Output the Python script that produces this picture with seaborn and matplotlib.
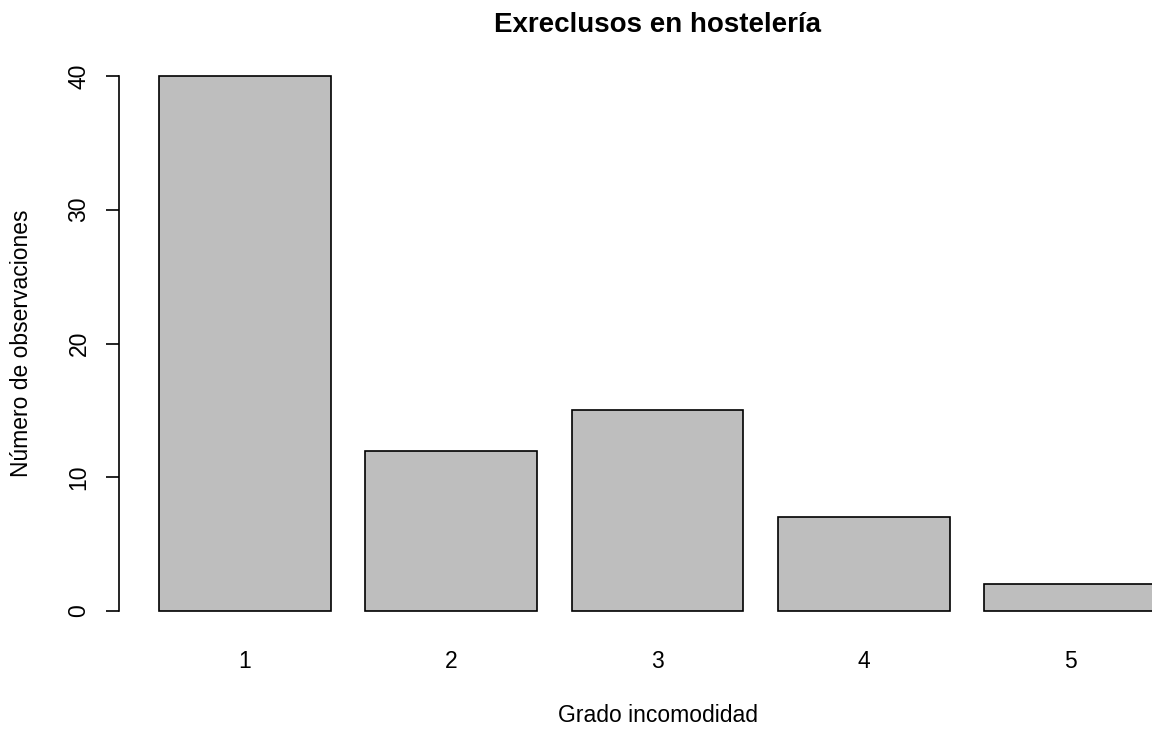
import matplotlib
matplotlib.use("Agg")
import matplotlib.pyplot as plt
import seaborn as sns

# ── Data ─────────────────────────────────────────────────────────────────────
grados = ["1", "2", "3", "4", "5"]
observaciones = [40, 12, 15, 7, 2]
y_ticks = [0, 10, 20, 30, 40]

TITLE = "Exreclusos en hostelería"
XLABEL = "Grado incomodidad"
YLABEL = "Número de observaciones"

sns.set_style("white")
plt.rcParams["font.family"] = ["Liberation Sans", "DejaVu Sans"]
plt.rcParams["text.color"] = "black"
plt.rcParams["axes.labelcolor"] = "black"

W, H = 1152, 730
fig = plt.figure(figsize=(W / 100, H / 100), dpi=100)
# plot region in pixels, mimicking R's barplot (runs past the right edge)
left, right, top, bottom = 119, 1196, 54.6, 632.4
ax = fig.add_axes([left / W, 1 - bottom / H, (right - left) / W, (bottom - top) / H])

sns.barplot(x=grados, y=observaciones, order=grados, color="#bebebe",
            saturation=1, edgecolor="black", linewidth=1.2, width=1 / 1.2,
            errorbar=None, ax=ax)

# R style limits: bars of width 1, space 0.2, 4% extension
ax.set_xlim(-0.61, 4.61)
ax.set_ylim(-1.6, 41.6)

for s in ["top", "right", "bottom"]:
    ax.spines[s].set_visible(False)
ax.spines["left"].set_bounds(0, 40)
ax.spines["left"].set_linewidth(1.2)
ax.spines["left"].set_color("black")

ax.set_yticks(y_ticks)
ax.tick_params(axis="y", left=True, direction="out", length=9.5, width=1.2,
               pad=11, labelsize=16.5, colors="black")
ax.tick_params(axis="x", bottom=False, length=0, pad=13, labelsize=16.5,
               colors="black")
plt.setp(ax.get_yticklabels(), rotation=90, va="center")

ax.set_title(TITLE, fontsize=20, fontweight="bold", pad=16, color="black")
ax.set_xlabel(XLABEL, fontsize=16.5, va="center", color="black")
ax.xaxis.set_label_coords(0.5, (bottom - 715) / (bottom - top))
ax.set_ylabel(YLABEL, fontsize=16.5, va="center", color="black")
ax.yaxis.set_label_coords((22 - left) / (right - left), 0.5)

fig.savefig("out.png", dpi=100)
